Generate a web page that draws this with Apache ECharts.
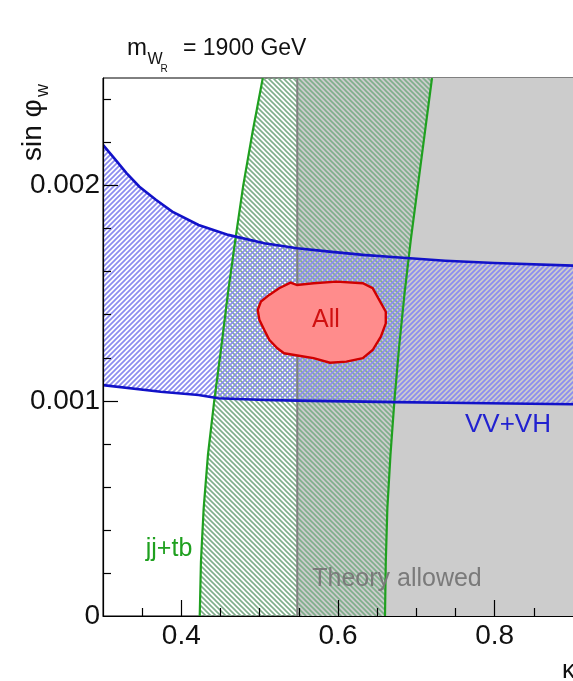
<!DOCTYPE html>
<html>
<head>
<meta charset="utf-8">
<script src="https://cdn.jsdelivr.net/npm/echarts@6/dist/echarts.min.js"></script>
<style>html,body{margin:0;padding:0;background:#fff}#c{width:573px;height:681px}</style>
</head>
<body>
<div id="c"></div>
<script>
// ---- data ----
const xMin = 0.3, xMax = 0.9;
const yMin = 0, yMax = 0.0025;
const xLabelTicks = [0.4, 0.6, 0.8];
const xMinorTicks = [0.35, 0.45, 0.5, 0.55, 0.65, 0.7, 0.75, 0.85];
const yLabelTicks = [0, 0.001, 0.002];
const yMinorTicks = [0.0002, 0.0004, 0.0006, 0.0008, 0.0012, 0.0014, 0.0016, 0.0018, 0.0022, 0.0024];

// jj+tb band (green)
const jjY      = [0, 0.00025, 0.0005, 0.00075, 0.001, 0.00125, 0.0015, 0.00175, 0.002, 0.00225, 0.0025];
const jjLeftX  = [0.4235, 0.425, 0.4285, 0.434, 0.442, 0.451, 0.4595, 0.469, 0.479, 0.491, 0.504];
const jjRightX = [0.660, 0.661, 0.663, 0.667, 0.672, 0.678, 0.685, 0.693, 0.702, 0.711, 0.720];

// VV+VH band (blue)
const vvUpperX = [0.300, 0.3126, 0.330, 0.3465, 0.3675, 0.3884, 0.422, 0.460, 0.506, 0.548, 0.589, 0.632, 0.674, 0.737, 0.800, 0.900];
const vvUpperY = [0.002189, 0.002135, 0.002058, 0.001995, 0.001934, 0.001879, 0.001817, 0.001771, 0.001732, 0.001709, 0.001693, 0.001678, 0.001667, 0.001651, 0.00164, 0.001628];
const vvLowerX = [0.300, 0.3735, 0.422, 0.447, 0.506, 0.548, 0.632, 0.674, 0.737, 0.900];
const vvLowerY = [0.001073, 0.001042, 0.001027, 0.001012, 0.001004, 0.001001, 0.000996, 0.000994, 0.000991, 0.000984];

// All (red contour)
const allX = [0.4975, 0.5016, 0.5122, 0.5248, 0.5394, 0.5478, 0.5688, 0.5981, 0.6317, 0.6443, 0.6526, 0.661, 0.661, 0.6547, 0.6443, 0.6317, 0.6107, 0.5897, 0.5688, 0.552, 0.5311, 0.5226, 0.5122, 0.5059, 0.4996];
const allY = [0.001422, 0.001461, 0.001492, 0.001523, 0.001549, 0.001538, 0.001546, 0.001554, 0.001546, 0.001523, 0.001469, 0.001414, 0.00136, 0.001298, 0.001236, 0.001198, 0.001182, 0.001177, 0.001198, 0.001208, 0.001221, 0.001244, 0.001283, 0.001329, 0.001376];

// Theory allowed region starts at
const theoryMinX = 0.548;

// ---- helpers ----
function hatch(color, dir, size, lw) {
  const c = document.createElement('canvas');
  c.width = size; c.height = size;
  const g = c.getContext('2d');
  g.strokeStyle = color; g.lineWidth = lw;
  g.beginPath();
  for (const k of [-1, 0, 1, 2]) {
    const cc = k * size;
    if (dir === '/') { g.moveTo(cc + 1, -1); g.lineTo(cc - size - 1, size + 1); }
    else { g.moveTo(cc - 1, -1); g.lineTo(cc + size + 1, size + 1); }
  }
  g.stroke();
  return { image: c, repeat: 'repeat' };
}
const zip = (xs, ys) => xs.map((x, i) => [x, ys[i]]);

function shape(z, type, pts, style) {
  return {
    type: 'custom', coordinateSystem: 'cartesian2d', data: [[xMin, yMin]], z: z,
    silent: true, clip: true, animation: false,
    renderItem: (params, api) => ({
      type: type,
      shape: { points: pts.map(p => api.coord(p)) },
      style: style
    })
  };
}

const jjLeft = zip(jjLeftX, jjY), jjRight = zip(jjRightX, jjY);
const vvUp = zip(vvUpperX, vvUpperY), vvLow = zip(vvLowerX, vvLowerY);
const allPts = zip(allX, allY);

const greenHatch = hatch('#7eae8a', '\\', 5, 1.6);
const blueHatch = hatch('#8c8cf0', '/', 5, 1.7);

const series = [
  shape(1, 'polygon', [[theoryMinX, yMin], [theoryMinX, yMax], [xMax, yMax], [xMax, yMin]], { fill: '#cccccc' }),
  shape(2, 'polygon', jjLeft.concat(jjRight.slice().reverse()), { fill: greenHatch }),
  shape(3, 'polygon', vvUp.concat(vvLow.slice().reverse()), { fill: blueHatch }),
  shape(4, 'polyline', [[theoryMinX, yMin], [theoryMinX, yMax]], { fill: null, stroke: '#808080', lineWidth: 2 }),
  shape(5, 'polyline', jjLeft, { fill: null, stroke: '#1fa01f', lineWidth: 2.2 }),
  shape(5, 'polyline', jjRight, { fill: null, stroke: '#1fa01f', lineWidth: 2.2 }),
  shape(6, 'polyline', vvUp, { fill: null, stroke: '#1212c8', lineWidth: 2.6 }),
  shape(6, 'polyline', vvLow, { fill: null, stroke: '#1212c8', lineWidth: 2.6 }),
  shape(7, 'polygon', allPts, { fill: '#ff8c8c', stroke: '#d00000', lineWidth: 2.4 })
];

const FONT = '"Liberation Sans", Arial, sans-serif';
const chart = echarts.init(document.getElementById('c'), null, { renderer: 'canvas' });
chart.setOption({
  animation: false,
  backgroundColor: '#ffffff',
  grid: { left: 103, top: 78, bottom: 65, right: -7, show: true, borderColor: '#000', borderWidth: 1, backgroundColor: 'transparent' },
  xAxis: [
    { type: 'value', min: xMin, max: xMax, position: 'bottom', z: 10,
      axisLine: { show: true, lineStyle: { color: '#000', width: 1.2 } },
      axisTick: { show: true, inside: true, length: 16, customValues: xLabelTicks, lineStyle: { color: '#000', width: 1.2 } },
      axisLabel: { show: true, customValues: xLabelTicks, fontSize: 28, fontFamily: FONT, color: '#111', margin: 6, formatter: v => v.toFixed(1) },
      splitLine: { show: false } },
    { type: 'value', min: xMin, max: xMax, position: 'bottom', z: 10,
      axisLine: { show: false },
      axisTick: { show: true, inside: true, length: 8, customValues: xMinorTicks, lineStyle: { color: '#000', width: 1.2 } },
      axisLabel: { show: false }, splitLine: { show: false } }
  ],
  yAxis: [
    { type: 'value', min: yMin, max: yMax, position: 'left', z: 10,
      axisLine: { show: true, lineStyle: { color: '#000', width: 1.2 } },
      axisTick: { show: true, inside: true, length: 15, customValues: [0.001, 0.002], lineStyle: { color: '#000', width: 1.2 } },
      axisLabel: { show: true, customValues: yLabelTicks, fontSize: 28, fontFamily: FONT, color: '#111', margin: 3, formatter: v => v === 0 ? '0' : v.toFixed(3) },
      splitLine: { show: false } },
    { type: 'value', min: yMin, max: yMax, position: 'left', z: 10,
      axisLine: { show: false },
      axisTick: { show: true, inside: true, length: 8, customValues: yMinorTicks, lineStyle: { color: '#000', width: 1.2 } },
      axisLabel: { show: false }, splitLine: { show: false } }
  ],
  series: series,
  graphic: [
    { type: 'text', z: 20, style: { text: 'm', x: 127, y: 48.5, font: '24px ' + FONT, fill: '#111', verticalAlign: 'middle' } },
    { type: 'text', z: 20, style: { text: 'W', x: 147.5, y: 59.5, font: '16px ' + FONT, fill: '#111', verticalAlign: 'middle' } },
    { type: 'text', z: 20, style: { text: 'R', x: 160.5, y: 69.5, font: '10px ' + FONT, fill: '#111', verticalAlign: 'middle' } },
    { type: 'text', z: 20, style: { text: '= 1900 GeV', x: 183, y: 48.5, font: '23px ' + FONT, fill: '#111', verticalAlign: 'middle' } },
    { type: 'group', x: 43, y: 161, rotation: Math.PI / 2, z: 20, children: [
      { type: 'text', z: 20, style: { text: 'sin φ', x: 0, y: -10, font: '28px ' + FONT, fill: '#111', verticalAlign: 'middle' } },
      { type: 'text', z: 20, style: { text: 'w', x: 64, y: 0, font: '18px ' + FONT, fill: '#111', verticalAlign: 'middle' } }
    ] },
    { type: 'text', z: 20, style: { text: 'All', x: 326, y: 320, font: '25px ' + FONT, fill: '#d01010', align: 'center', verticalAlign: 'middle' } },
    { type: 'text', z: 20, style: { text: 'VV+VH', x: 508, y: 425, font: '26px ' + FONT, fill: '#2222d0', align: 'center', verticalAlign: 'middle' } },
    { type: 'text', z: 20, style: { text: 'jj+tb', x: 169, y: 549, font: '25px ' + FONT, fill: '#1fa01f', align: 'center', verticalAlign: 'middle' } },
    { type: 'text', z: 20, style: { text: 'Theory allowed', x: 397, y: 579, font: '25px ' + FONT, fill: '#7a7a7a', align: 'center', verticalAlign: 'middle' } },
    { type: 'text', z: 20, style: { text: 'κ', x: 562, y: 671, font: '26px ' + FONT, fill: '#111', verticalAlign: 'middle' } }
  ]
});
</script>
</body>
</html>
